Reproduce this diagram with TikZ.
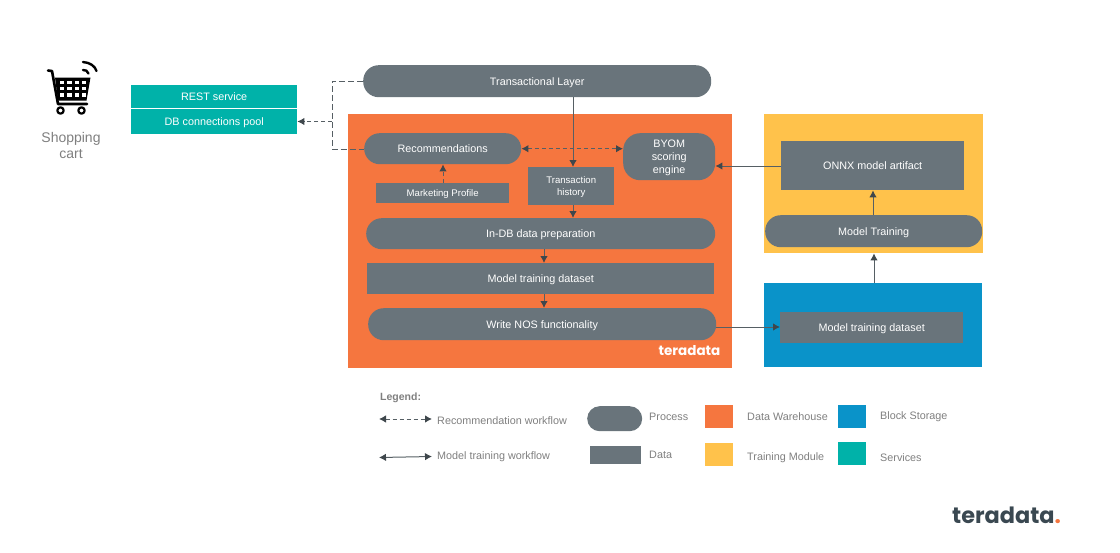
\documentclass[tikz,border=0pt]{standalone}
\usepackage{fontspec}
\setmainfont{Liberation Sans}
\newfontfamily\logofont{Poppins}
\usetikzlibrary{arrows.meta,calc}
\definecolor{slateg}{HTML}{69747B}
\definecolor{dwor}{HTML}{F5763F}
\definecolor{tmye}{HTML}{FFC24B}
\definecolor{bsbl}{HTML}{0A93C9}
\definecolor{svte}{HTML}{00B2A9}
\definecolor{txtg}{HTML}{7F7F7F}
\definecolor{arrg}{HTML}{3F474C}
\definecolor{lineg}{HTML}{565F64}
\definecolor{logod}{HTML}{3A4851}
\tikzset{
  x=1pt,y=-1pt,
  mainfont/.style={font=\fontsize{10.8}{13}\selectfont},
  oneline/.style={text height=8.5pt,text depth=0pt},
  procbox/.style={fill=slateg,rounded corners=15.5pt,text=white,mainfont,oneline,align=center,anchor=north west,inner sep=0pt,minimum width=#1},
  databox/.style={fill=slateg,text=white,mainfont,oneline,align=center,anchor=north west,inner sep=0pt,minimum width=#1},
  servbox/.style={fill=svte,text=white,mainfont,oneline,align=center,anchor=north west,inner sep=0pt,minimum width=#1},
  zone/.style={fill=#1,anchor=north west,inner sep=0pt},
  swatch/.style={fill=#1,anchor=north west,inner sep=0pt,minimum width=28pt,minimum height=23pt},
  legtext/.style={text=txtg,mainfont,anchor=west,inner sep=0pt},
  flow/.style={draw=lineg,line width=1pt,-{Latex[length=7pt,width=7.5pt,color=arrg]}},
  flowd/.style={flow,dash pattern=on 4pt off 3pt},
  dashl/.style={draw=lineg,line width=1pt,dash pattern=on 6pt off 3pt},
  bothd/.style={flowd,{Latex[length=7pt,width=7.5pt,color=arrg]}-{Latex[length=7pt,width=7.5pt,color=arrg]}},
  both/.style={flow,{Latex[length=7pt,width=7.5pt,color=arrg]}-{Latex[length=7pt,width=7.5pt,color=arrg]}},
}
\begin{document}
\begin{tikzpicture}
\useasboundingbox (0,0) rectangle (1120,552);
% zones
\node[zone=dwor,minimum width=384pt,minimum height=254pt] (dw) at (348,114) {};
\node[zone=tmye,minimum width=219pt,minimum height=139pt] (tm) at (764,114) {};
\node[zone=bsbl,minimum width=218pt,minimum height=84pt] (bs) at (764,283) {};
% services
\node[servbox=166pt,minimum height=23pt] (rest) at (131,84.5) {REST service};
\node[servbox=166pt,minimum height=25.5pt] (pool) at (131,108.5) {DB connections pool};
% process
\node[procbox=348pt,minimum height=32pt] (tl) at (363,65) {Transactional Layer};
\node[procbox=157pt,minimum height=31pt] (rec) at (364,133) {Recommendations};
\node[procbox=92pt,minimum height=47pt,rounded corners=17pt,text height={},text depth={}] (byom) at (623,133) {\rule{0pt}{10pt}BYOM\\scoring\\engine};
\node[procbox=349pt,minimum height=31pt] (prep) at (366,218) {In-DB data preparation};
\node[procbox=348pt,minimum height=32pt] (nos) at (368,308) {Write NOS functionality};
\node[procbox=217pt,minimum height=32pt] (train) at (765,215) {Model Training};
% data
\node[databox=133pt,minimum height=20pt,font=\fontsize{9.6}{11}\selectfont,text height=7pt] (mp) at (376,183) {Marketing Profile};
\node[databox=86pt,minimum height=38pt,font=\fontsize{9.6}{11.5}\selectfont,text height={},text depth={}] (th) at (528,167) {\rule{0pt}{9pt}Transaction\\history};
\node[databox=347pt,minimum height=31pt] (mtd) at (367,263) {Model training dataset};
\node[databox=183pt,minimum height=49pt] (onnx) at (781,141) {ONNX model artifact};
\node[databox=183pt,minimum height=31pt] (mtdb) at (780,312) {Model training dataset};
% connectors
\coordinate (bend1) at (332,81);
\coordinate (bend2) at (332,149.5);
\coordinate (tap) at (332,121.5);
\draw[dashl] (tl.west|-bend1) -- (bend1) -- (bend2) -- (rec.west|-bend2);
\draw[flowd] (tap) -- (pool.east|-tap);
\draw[bothd] (rec.east) -- (byom.west|-rec.east);
\draw[flow] (tl.south-|573,0) -- (th.north-|573,0);
\draw[flowd] (mp.north-|443,0) -- (rec.south-|443,0);
\draw[flow] (th.south-|573,0) -- (prep.north-|573,0);
\draw[flow] (prep.south-|544,0) -- (mtd.north-|544,0);
\draw[flow] (mtd.south-|544,0) -- (nos.north-|544,0);
\draw[flow] (nos.east|-0,327) -- (mtdb.west|-0,327);
\draw[flow] (onnx.west|-0,166) -- (byom.east|-0,166);
\draw[flow] (train.north-|873,0) -- (onnx.south-|873,0);
\draw[flow] (bs.north-|874,0) -- (tm.south-|874,0);
% cart
\begin{scope}[line cap=round,line join=round]
\draw[black,line width=2.6pt] (48,70.5) -- (52,71) -- (58,104) -- (87,104);
\fill[black] (55,77.5) -- (90.5,77.5) -- (86.5,100.5) -- (58,100.5) -- cycle;
\foreach \cx in {62,69.5,77,84}{\foreach \cy in {82.5,88.5,95}{\fill[white] (\cx-2.3,\cy-1.8) rectangle (\cx+2.3,\cy+1.8);}}
\draw[black,line width=2.2pt,fill=white] (60.5,110.5) circle (3.2);
\draw[black,line width=2.2pt,fill=white] (81.5,110.5) circle (3.2);
\draw[black,line width=2.4pt] (83,62) .. controls (90,62.5) and (95,66) .. (96.5,71);
\draw[black,line width=2.4pt] (83,70) .. controls (85.5,69.5) and (87.5,71) .. (88.5,73.5);
\end{scope}
\node[text=txtg,font=\fontsize{14}{16.5}\selectfont,align=center,inner sep=0pt] (cartlabel) at (71,145.5) {Shopping\\cart};
% logos
\node[text=white,font=\logofont\bfseries\fontsize{13.5}{14}\selectfont,anchor=center,inner sep=0pt] (logoa) at (689.5,351) {teradata};
\node[text=logod,font=\logofont\bfseries\fontsize{22.4}{24}\selectfont,anchor=west,inner sep=0pt] (logob) at (952,515) {teradata\textcolor{dwor}{.}};
% legend
\node[text=txtg,font=\bfseries\fontsize{10.5}{12.6}\selectfont,anchor=west,inner sep=0pt] (leg) at (380,398) {Legend:};
\coordinate (la) at (379,419); \coordinate (lb) at (432,419);
\coordinate (lc) at (379,457.5); \coordinate (ld) at (432,456.5);
\draw[bothd] (la) -- (lb);
\draw[both] (lc) -- (ld);
\node[legtext] (l1) at (437,420.7) {Recommendation workflow};
\node[legtext] (l2) at (437,456.3) {Model training workflow};
\node[procbox=55pt,minimum height=25pt,rounded corners=12.5pt] (s1) at (587,406) {};
\node[databox=51pt,minimum height=18pt] (s2) at (590,446) {};
\node[legtext] (l3) at (649,417) {Process};
\node[legtext] (l4) at (649,454.5) {Data};
\node[swatch=dwor] (s3) at (705,405) {};
\node[swatch=tmye] (s4) at (705,443) {};
\node[swatch=bsbl] (s5) at (838,405) {};
\node[swatch=svte] (s6) at (838,442) {};
\node[legtext] (l5) at (747,416.5) {Data Warehouse};
\node[legtext] (l6) at (747,458) {Training Module};
\node[legtext] (l7) at (880,416.3) {Block Storage};
\node[legtext] (l8) at (880,457.5) {Services};
\end{tikzpicture}
\end{document}
